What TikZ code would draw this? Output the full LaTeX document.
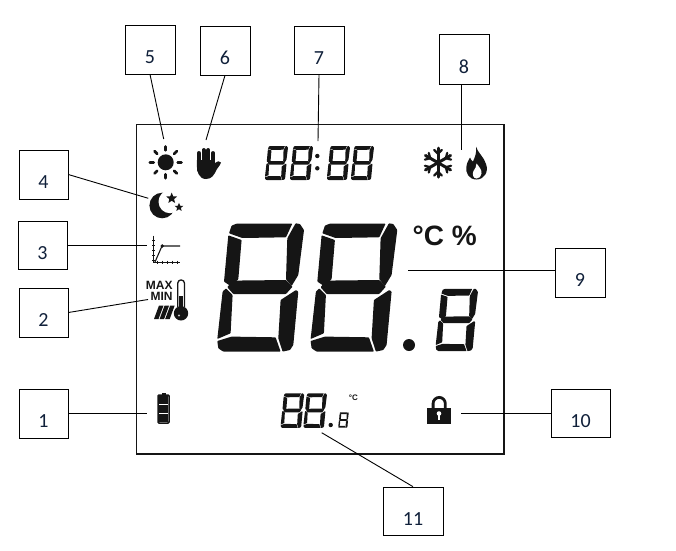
\documentclass[tikz,border=0pt]{standalone}
\usepackage{fontspec}
\setmainfont{Liberation Sans}
\newfontfamily\labfont{Carlito}
\usetikzlibrary{shapes.geometric,calc}
\definecolor{ink}{HTML}{151515}
\definecolor{navy}{HTML}{10203A}
\newcommand{\numlab}[1]{\raisebox{-14.4pt}[0pt][0pt]{#1}}
\tikzset{
  numbox/.style={draw=black,line width=0.7pt,fill=white,inner sep=0pt,text=navy,font=\labfont\fontsize{20}{20}\selectfont},
  lead/.style={draw=black,line width=0.9pt},
  icon/.style={fill=ink,draw=none},
  stroke/.style={draw=ink,line cap=round,fill=none},
  seg/.style={fill=ink,draw=none,rounded corners=#1},
  seg/.default=0.7pt,
  starmark/.style={star,star points=5,star point ratio=2.3,fill=ink,draw=none,inner sep=0pt}
}
\newcommand{\lcddigit}[4][0.7pt]{%
  \begin{scope}[shift={(#2,#3)},x=#4pt,y=-#4pt]
    \fill[seg=#1] (11.7,10)--(14.3,2.3)--(19.3,0.3)--(75,0.3)--(68.7,14)--(25,14.7)--cycle;
    \fill[seg=#1] (78.3,0)--(82.7,0.7)--(86.7,6.7)--(81,51.7)--(74.3,62.7)--(68.7,56)--(70,15)--cycle;
    \fill[seg=#1] (11,12)--(24.3,16.7)--(21,56)--(13.3,62.7)--(6.7,58.3)--cycle;
    \fill[seg=#1] (15.3,57.3)--(68.7,56.7)--(75.3,63.3)--(68.7,70.7)--(16,70.7)--(10,64)--cycle;
    \fill[seg=#1] (5.3,68.3)--(8.7,65)--(15.3,71.7)--(13.3,110)--(0,115.7)--cycle;
    \fill[seg=#1] (78.7,66.7)--(81,68.3)--(76,121.7)--(72.7,126.7)--(65.3,128.3)--(61,115)--(63.3,76.7)--cycle;
    \fill[seg=#1] (0,117.7)--(14.3,113.3)--(58.3,114)--(63.3,128.3)--(6,128.3)--(1,125)--cycle;
  \end{scope}}
\begin{document}
\begin{tikzpicture}[x=1pt,y=-1pt]
\useasboundingbox (0,0) rectangle (676,550);
% display frame
\draw[draw=ink,line width=0.9pt] (136,124) rectangle (504,454);
\draw[draw=ink,line width=1.8pt] (504,124)--(504,454)--(136,454);

% number boxes
\node[numbox,minimum width=50pt,minimum height=49pt] (n5) at (150,49.5) {\numlab{5}};
\node[numbox,minimum width=50pt,minimum height=49pt] (n6) at (225,50.5) {\numlab{6}};
\node[numbox,minimum width=50pt,minimum height=48pt] (n7) at (319,50) {\numlab{7}};
\node[numbox,minimum width=50pt,minimum height=50pt] (n8) at (464,59) {\numlab{8}};
\node[numbox,minimum width=49pt,minimum height=49pt] (n4) at (43.5,174.5) {\numlab{4}};
\node[numbox,minimum width=49pt,minimum height=48pt] (n3) at (42.5,245) {\numlab{3}};
\node[numbox,minimum width=49pt,minimum height=49pt] (n2) at (43.5,312.5) {\numlab{2}};
\node[numbox,minimum width=49pt,minimum height=49pt] (n1) at (43.5,413.5) {\numlab{1}};
\node[numbox,minimum width=50pt,minimum height=49pt] (n9) at (580,272.5) {\numlab{9}};
\node[numbox,minimum width=59pt,minimum height=48pt] (n10) at (580.5,413) {\numlab{10}};
\node[numbox,minimum width=60pt,minimum height=48pt] (n11) at (413,511) {\numlab{11}};

% connector ends
\coordinate (c5) at (163.7,139);
\coordinate (c6) at (206,140);
\coordinate (c7) at (318,141);
\coordinate (c8) at (461.3,150);
\coordinate (c4) at (148.3,198.3);
\coordinate (c3) at (146.7,245);
\coordinate (c2) at (148,299.5);
\coordinate (c1) at (147,413.5);
\coordinate (c9) at (408.3,270);
\coordinate (c10) at (461,413);
\coordinate (c11) at (321.7,432.7);
\draw[lead] (n5.south)--(c5);
\draw[lead] (n6.south)--(c6);
\draw[lead] (n7.south)--(c7);
\draw[lead] (n8.south -| c8)--(c8);
\draw[lead] (n4.east)--(c4);
\draw[lead] (n3.east)--(c3);
\draw[lead] (n2.east)--(c2);
\draw[lead] (n1.east)--(c1);
\draw[lead] (n9.west |- c9)--(c9);
\draw[lead] (n10.west)--(c10);
\draw[lead] (n11.north)--(c11);

% sun
\fill[icon] (165.7,162.3) circle (8);
\foreach \a in {0,45,...,315}
  \draw[stroke,line width=2.8pt] ($(165.7,162.3)+(\a:12)$)--($(165.7,162.3)+(\a:15.8)$);

% hand
\draw[stroke,line width=3.9pt] (198.8,170)--(198.8,153);
\draw[stroke,line width=3.9pt] (203.6,170)--(203.6,150);
\draw[stroke,line width=3.9pt] (208.4,170)--(208.4,150);
\draw[stroke,line width=3.9pt] (213,170)--(213,153);
\fill[icon] (196.8,162) .. controls (196.5,172) and (199,179) .. (206,179)
  .. controls (212,179) and (214,175) .. (217,169)
  .. controls (219,166) and (221,164) .. (221,162.5)
  .. controls (220,160.5) and (217,161) .. (215,163)
  -- (214.9,160) -- (197,160) -- cycle;

% moon
\fill[icon] (162.2,205.5) circle (12.8);
\fill[white] (170,201.7) circle (11.5);
\node[starmark,minimum size=11.5pt] (s1) at (171.7,198.3) {};
\node[starmark,minimum size=9pt] (s2) at (179,207.3) {};

% curve icon
\draw[draw=ink,line width=1.5pt] (153.3,235.7)--(153.3,262.3)--(179.5,262.3);
\draw[draw=ink,line width=1.1pt] (155,262)--(162,246)--(180,246);
\fill[icon] (162.3,246) circle (1.9);
\foreach \t in {240,245,250,255,260} \draw[draw=ink,line width=0.8pt] (152,\t)--(155.3,\t);
\foreach \t in {157,162,167,172,177} \draw[draw=ink,line width=0.8pt] (\t,260.5)--(\t,264);

% MAX MIN thermometer
\node[inner sep=0pt,anchor=east,text=ink,font=\bfseries\fontsize{12}{12}\selectfont] (tmax) at (172.8,285) {MAX};
\node[inner sep=0pt,anchor=east,text=ink,font=\bfseries\fontsize{12}{12}\selectfont] (tmin) at (172.8,296.5) {MIN};
\draw[draw=ink,line width=1.3pt,fill=white,rounded corners=3pt] (177.8,307)--(177.8,280)--(184.4,280)--(184.4,307);
\fill[icon] (179.4,296) rectangle (182.8,308);
\fill[icon] (181,313.3) circle (7.2);
\fill[white!75!ink] (179,315.5) circle (1.2);
\foreach \i in {0,1,2}
  \fill[icon] ({154+\i*5.6},319) -- ({159+\i*5.6},305.5) -- ({163.5+\i*5.6},305.5) -- ({158.5+\i*5.6},319) -- cycle;

% clock digits
\lcddigit[0.2pt]{265}{146}{0.265}
\lcddigit[0.2pt]{290}{146}{0.265}
\fill[icon] (317.3,156) circle (2.2);
\fill[icon] (317.3,168.3) circle (2.2);
\lcddigit[0.2pt]{327}{146}{0.265}
\lcddigit[0.2pt]{351}{146}{0.265}

% snowflake
\foreach \a in {30,90,150,210,270,330}{
  \draw[stroke,line width=3pt] (438,162.7)--++(\a:14.5);
  \draw[stroke,line width=2.2pt] ($(438,162.7)+(\a:9)$)--++(\a+45:5.5);
  \draw[stroke,line width=2.2pt] ($(438,162.7)+(\a:9)$)--++(\a-45:5.5);
}

% flame
\fill[icon] (476,146.7) .. controls (478,153) and (484,157) .. (486,164)
  .. controls (489,172) and (484,179.5) .. (476.5,179.5)
  .. controls (469,179.5) and (465,173) .. (466.5,166)
  .. controls (467,162) and (469,160) .. (470,157.5)
  .. controls (471,160) and (472,161) .. (473,161.5)
  .. controls (475,157) and (477,152) .. (476,146.7) -- cycle;
\fill[white] (476.5,178.5) .. controls (473,178.5) and (472,174) .. (473.5,171)
  .. controls (475,168.5) and (476.5,167) .. (476.5,163.5)
  .. controls (479,166.5) and (482,170) .. (481.5,173.5)
  .. controls (481,176.5) and (479.5,178.5) .. (476.5,178.5) -- cycle;

% big digits
\lcddigit{217.3}{223.3}{1}
\lcddigit{310.6}{223.3}{1}
\fill[icon] (409,345) circle (6);
\lcddigit[0.4pt]{435.7}{288.7}{0.487}
\node[inner sep=0pt,anchor=west,text=ink,font=\bfseries\fontsize{28}{28}\selectfont] (unit) at (412.5,236) {°C \%};

% battery
\fill[icon] (161.5,393) rectangle (166,395.5);
\draw[draw=ink,line width=1.5pt,rounded corners=1pt] (158,395) rectangle (169,423);
\fill[icon] (159,396) rectangle (168,403.5);
\fill[icon] (159,405.3) rectangle (168,412.5);
\fill[icon] (159,414.3) rectangle (168,422);

% lock
\draw[draw=ink,line width=2.8pt] (433.1,409) -- (433.1,403.5) arc[start angle=180,end angle=360,radius=6.1] -- (445.3,409);
\fill[icon] (427.3,407.7) rectangle (451,424.3);
\fill[white] (439,413.5) circle (2.3);
\fill[white] (438,413.5) rectangle (440,420);

% small reading
\lcddigit[0.2pt]{280.7}{393.3}{0.27}
\lcddigit[0.2pt]{303.5}{393.3}{0.27}
\fill[icon] (330.7,425) circle (2.2);
\lcddigit[0.1pt]{338.3}{412.3}{0.12}
\node[inner sep=0pt,text=ink,font=\bfseries\fontsize{8}{8}\selectfont] (smallunit) at (353.3,398) {°C};
\end{tikzpicture}
\end{document}
